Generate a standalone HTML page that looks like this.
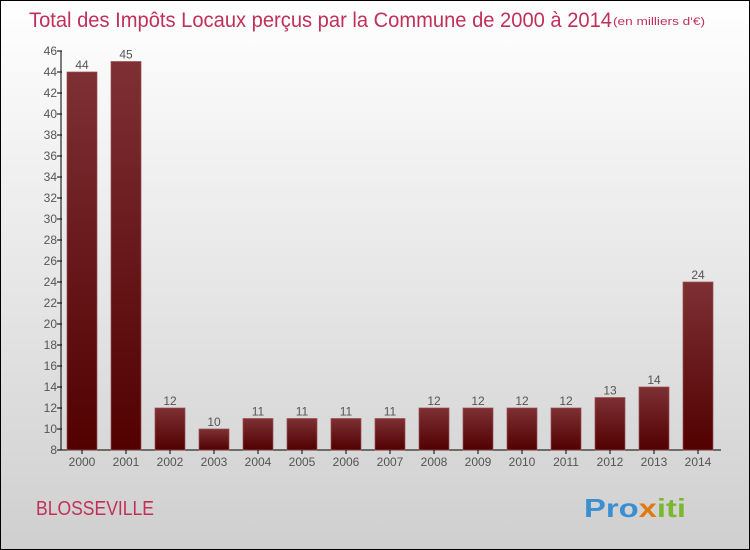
<!DOCTYPE html>
<html><head><meta charset="utf-8"><style>
body{margin:0;}
#wrap{position:relative;width:748px;height:548px;border:1px solid #000;background:linear-gradient(#ffffff,#cfcfcf);overflow:hidden;font-family:"Liberation Sans",sans-serif;}
</style></head><body>
<div id="wrap">
<svg id="chart" width="748" height="548">
<defs><linearGradient id="g" x1="0" y1="0" x2="0" y2="1"><stop offset="0" stop-color="#7e3034"/><stop offset="1" stop-color="#520000"/></linearGradient></defs>
<text x="28" y="26" font-size="21" fill="#c0305a" textLength="583" lengthAdjust="spacingAndGlyphs">Total des Impôts Locaux perçus par la Commune de 2000 à 2014</text>
<text x="612" y="24" font-size="11" fill="#c0305a" textLength="92" lengthAdjust="spacingAndGlyphs">(en milliers d'€)</text>
<text x="35" y="514" font-size="20" fill="#c0305a" textLength="118" lengthAdjust="spacingAndGlyphs">BLOSSEVILLE</text>
<text x="583" y="516" font-size="26" font-weight="bold" fill="#3a8fd0" textLength="102" lengthAdjust="spacingAndGlyphs">Pro<tspan fill="#e07a10">x</tspan><tspan fill="#7ab830">iti</tspan></text>
<g id="plot"></g>
</svg>
</div>
<script>
const categories=["2000","2001","2002","2003","2004","2005","2006","2007","2008","2009","2010","2011","2012","2013","2014"];
const values=[44,45,12,10,11,11,11,11,12,12,12,12,13,14,24];
const yTicks=[8,10,12,14,16,18,20,22,24,26,28,30,32,34,36,38,40,42,44,46];
const NS="http://www.w3.org/2000/svg";
const g=document.getElementById('plot');
const y0=449,yTop=50,ymin=8,ymax=46;
function y(v){return y0-(v-ymin)/(ymax-ymin)*(y0-yTop);}
function xc(i){return 81+i*44;}
function mk(t,a){const e=document.createElementNS(NS,t);for(const k in a)e.setAttribute(k,a[k]);g.appendChild(e);return e;}
let ax=mk('line',{x1:60,y1:yTop,x2:60,y2:y0,stroke:'#000'});


let bx=mk('line',{x1:60,y1:y0,x2:720,y2:y0,stroke:'#000'});


yTicks.forEach(v=>{
 let l=mk('line',{x1:56,y1:y(v),x2:61,y2:y(v),stroke:'#000'});
 
 
 let t=mk('text',{x:56,y:y(v)+4,'font-size':12,fill:'#555','text-anchor':'end'});
 t.textContent=v;
 
 
});
categories.forEach((c,i)=>{
 const v=values[i];
 let r=mk('rect',{x:xc(i)-15,y:y(v),width:30,height:y0-y(v),fill:'url(#g)',stroke:'#9a5050','stroke-width':0.7});
 
 
 let t=mk('text',{x:xc(i),y:y(v)-3,'font-size':12,fill:'#555','text-anchor':'middle'});
 t.textContent=v;
 
 
 let tk=mk('line',{x1:xc(i),y1:y0,x2:xc(i),y2:y0+4,stroke:'#000'});
 
 
 let xl=mk('text',{x:xc(i),y:y0+16,'font-size':12,fill:'#555','text-anchor':'middle'});
 xl.textContent=c;
 
 
});
</script>
</body></html>
